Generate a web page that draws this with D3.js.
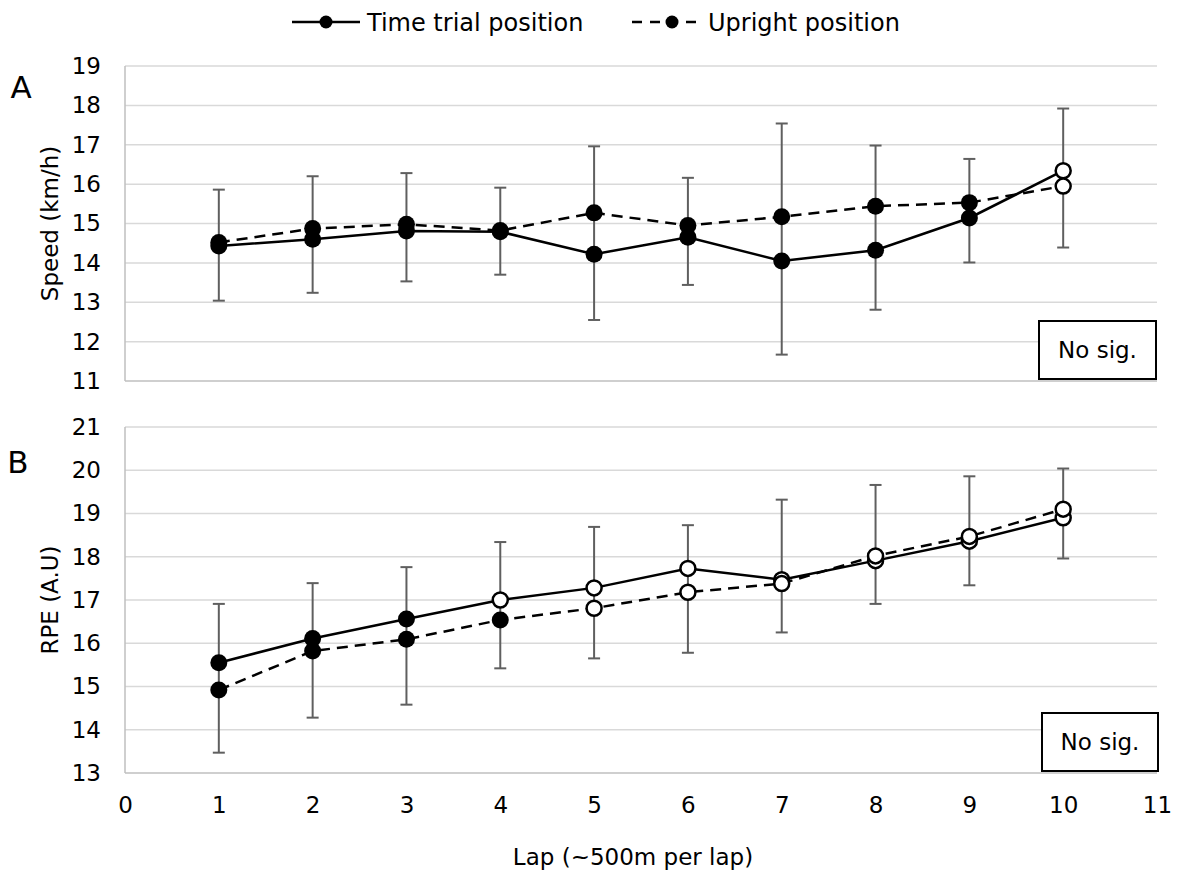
<!DOCTYPE html>
<html>
<head>
<meta charset="utf-8">
<script src="https://cdn.jsdelivr.net/npm/d3@7"></script>
<style>
  html, body { margin: 0; padding: 0; background: #fff; }
  svg { display: block; }
  text { font-family: "DejaVu Sans", Verdana, sans-serif; fill: #000; }
</style>
</head>
<body>
<svg id="chart" width="1181" height="874"></svg>
<script>
// ---------- data ----------
const laps = [1, 2, 3, 4, 5, 6, 7, 8, 9, 10];
const xTicks = [0, 1, 2, 3, 4, 5, 6, 7, 8, 9, 10, 11];

// Panel A: speed (km/h)
const speedTT      = [14.43, 14.60, 14.81, 14.79, 14.22, 14.65, 14.05, 14.32, 15.14, 16.34];
const speedUpright = [14.52, 14.87, 14.98, 14.82, 15.27, 14.95, 15.17, 15.44, 15.53, 15.95];
const speedErrHigh = [15.86, 16.20, 16.28, 15.91, 16.96, 16.16, 17.54, 16.98, 16.64, 17.92];
const speedErrLow  = [13.04, 13.24, 13.53, 13.70, 12.55, 13.44, 11.67, 12.81, 14.01, 14.39];
const speedTTHollow      = [false, false, false, false, false, false, false, false, false, true];
const speedUprightHollow = [false, false, false, false, false, false, false, false, false, true];
const speedTicks = [11, 12, 13, 14, 15, 16, 17, 18, 19];

// Panel B: RPE (A.U)
const rpeTT      = [15.55, 16.11, 16.56, 17.00, 17.28, 17.73, 17.47, 17.91, 18.36, 18.90];
const rpeUpright = [14.92, 15.82, 16.09, 16.54, 16.81, 17.18, 17.38, 18.02, 18.47, 19.10];
const rpeErrHigh = [16.91, 17.39, 17.76, 18.34, 18.69, 18.73, 19.32, 19.66, 19.86, 20.04];
const rpeErrLow  = [13.47, 14.28, 14.58, 15.42, 15.65, 15.78, 16.25, 16.91, 17.34, 17.96];
const rpeTTHollow      = [false, false, false, true, true, true, true, true, true, true];
const rpeUprightHollow = [false, false, false, false, true, true, true, true, true, true];
const rpeTicks = [13, 14, 15, 16, 17, 18, 19, 20, 21];

const legendLabels = ["Time trial position", "Upright position"];
const panelLabels = ["A", "B"];
const yTitles = ["Speed (km/h)", "RPE (A.U)"];
const xTitle = "Lap (~500m per lap)";
const noteText = "No sig.";

// ---------- layout ----------
const svg = d3.select("#chart");
const x = d3.scaleLinear().domain([0, 11]).range([125, 1157]);

const panels = [
  { yDomain: [11, 19], yRange: [381, 66], ticks: speedTicks, tt: speedTT, up: speedUpright,
    hi: speedErrHigh, lo: speedErrLow, ttH: speedTTHollow, upH: speedUprightHollow,
    label: panelLabels[0], labelPos: [21, 98], title: yTitles[0], showX: false,
    box: [1039, 321, 117, 58] },
  { yDomain: [13, 21], yRange: [773, 427], ticks: rpeTicks, tt: rpeTT, up: rpeUpright,
    hi: rpeErrHigh, lo: rpeErrLow, ttH: rpeTTHollow, upH: rpeUprightHollow,
    label: panelLabels[1], labelPos: [18, 473], title: yTitles[1], showX: true,
    box: [1042, 713, 116, 58] }
];

const gridColor = "#d9d9d9";
const axisColor = "#bfbfbf";
const errColor = "#5f5f5f";
const tickFont = 23;

panels.forEach(p => {
  const y = d3.scaleLinear().domain(p.yDomain).range(p.yRange);
  const g = svg.append("g");

  // gridlines (excluding bottom)
  g.selectAll("line.grid").data(p.ticks.slice(1)).join("line")
    .attr("x1", x(0)).attr("x2", x(11))
    .attr("y1", d => y(d)).attr("y2", d => y(d))
    .attr("stroke", gridColor).attr("stroke-width", 1.5);

  // y axis labels via d3.axisLeft
  const yAxis = d3.axisLeft(y).tickValues(p.ticks).tickSize(0).tickPadding(24).tickFormat(d3.format("d"));
  const ya = g.append("g").attr("transform", `translate(${x(0)},0)`).call(yAxis);
  ya.select(".domain").remove();
  ya.selectAll("text").attr("font-size", tickFont).attr("font-family", "DejaVu Sans, Verdana, sans-serif").attr("fill", "#000");

  // axis lines
  g.append("line").attr("x1", x(0)).attr("x2", x(0)).attr("y1", y(p.yDomain[1])).attr("y2", y(p.yDomain[0]))
    .attr("stroke", axisColor).attr("stroke-width", 1.5);
  g.append("line").attr("x1", x(0)).attr("x2", x(11)).attr("y1", y(p.yDomain[0])).attr("y2", y(p.yDomain[0]))
    .attr("stroke", axisColor).attr("stroke-width", 1.5);

  if (p.showX) {
    const xAxis = d3.axisBottom(x).tickValues(xTicks).tickSize(0).tickPadding(24).tickFormat(d3.format("d"));
    const xa = g.append("g").attr("transform", `translate(0,${y(p.yDomain[0])})`).call(xAxis);
    xa.select(".domain").remove();
    xa.selectAll("text").attr("font-size", tickFont).attr("font-family", "DejaVu Sans, Verdana, sans-serif").attr("fill", "#000");
  }

  // error bars
  const eb = g.append("g");
  laps.forEach((l, i) => {
    eb.append("line").attr("x1", x(l)).attr("x2", x(l)).attr("y1", y(p.hi[i])).attr("y2", y(p.lo[i]))
      .attr("stroke", errColor).attr("stroke-width", 2);
    [p.hi[i], p.lo[i]].forEach(v => {
      eb.append("line").attr("x1", x(l) - 6).attr("x2", x(l) + 6).attr("y1", y(v)).attr("y2", y(v))
        .attr("stroke", errColor).attr("stroke-width", 2);
    });
  });

  const line = d3.line().x((d, i) => x(laps[i])).y(d => y(d));

  // series: TT solid, then upright dashed
  [[p.tt, p.ttH, null], [p.up, p.upH, "11,7"]].forEach(([vals, hollow, dash]) => {
    g.append("path").datum(vals).attr("d", line).attr("fill", "none")
      .attr("stroke", "#000").attr("stroke-width", 2.5)
      .attr("stroke-dasharray", dash);
    g.selectAll(null).data(vals).join("circle")
      .attr("cx", (d, i) => x(laps[i])).attr("cy", d => y(d))
      .attr("r", (d, i) => hollow[i] ? 7.5 : 8.5)
      .attr("fill", (d, i) => hollow[i] ? "#fff" : "#000")
      .attr("stroke", "#000").attr("stroke-width", (d, i) => hollow[i] ? 2.5 : 0);
  });

  // panel letter
  svg.append("text").attr("x", p.labelPos[0]).attr("y", p.labelPos[1]).attr("text-anchor", "middle")
    .attr("font-family", "Liberation Sans, Arial, sans-serif").attr("font-size", 31).text(p.label);

  // y title
  const cy = (p.yRange[0] + p.yRange[1]) / 2;
  svg.append("text").attr("transform", `translate(58,${cy}) rotate(-90)`).attr("text-anchor", "middle")
    .attr("font-size", 23).text(p.title);

  // note box
  const [bx, by, bw, bh] = p.box;
  svg.append("rect").attr("x", bx).attr("y", by).attr("width", bw).attr("height", bh)
    .attr("fill", "#fff").attr("stroke", "#000").attr("stroke-width", 2);
  svg.append("text").attr("x", bx + bw / 2).attr("y", by + bh / 2 + 8).attr("text-anchor", "middle")
    .attr("font-family", "Liberation Sans, Arial, sans-serif").attr("font-size", 23).text(noteText);
});

// x title
svg.append("text").attr("x", 633).attr("y", 865).attr("text-anchor", "middle").attr("font-size", 23).text(xTitle);

// legend
const leg = svg.append("g");
const legendItems = [
  { x1: 292, x2: 360, mx: 326, tx: 367, dash: null, label: legendLabels[0] },
  { x1: 632, x2: 697, mx: 672, tx: 708, dash: "10,8", label: legendLabels[1] }
];
legendItems.forEach(it => {
  leg.append("line").attr("x1", it.x1).attr("x2", it.x2).attr("y1", 22).attr("y2", 22)
    .attr("stroke", "#000").attr("stroke-width", 2.5).attr("stroke-dasharray", it.dash);
  leg.append("circle").attr("cx", it.mx).attr("cy", 22).attr("r", 6.5).attr("fill", "#000");
  leg.append("text").attr("x", it.tx).attr("y", 30.5).attr("font-size", 24).text(it.label);
});
</script>
</body>
</html>
